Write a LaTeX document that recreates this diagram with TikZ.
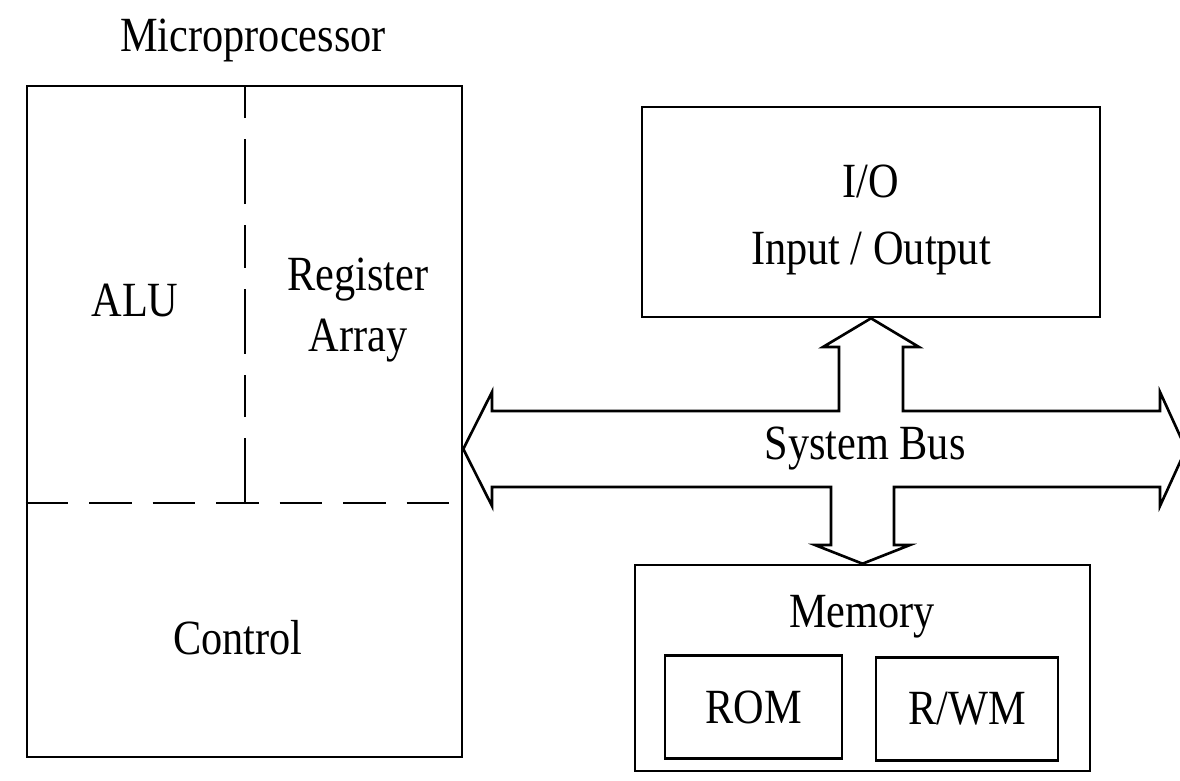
\documentclass[tikz,border=0pt]{standalone}
\usepackage{fontspec}
\setmainfont{Liberation Serif}[FakeStretch=0.86]
\usetikzlibrary{positioning}
\begin{document}
\begin{tikzpicture}[x=0.02cm,y=-0.02cm,line width=1.5pt,
  every node/.style={font=\fontsize{28}{36}\selectfont},
  block/.style={draw,rectangle,inner sep=0pt},
  divider/.style={dash pattern=on 0.85cm off 0.42cm},
  busline/.style={draw,line join=miter}]
  \useasboundingbox (0,0) rectangle (1180,781);
  % Microprocessor
  \node (cpu) [block,minimum width=8.7cm,minimum height=13.42cm] at (244.5,421.5) {};
  \node (cpuname) at (253,40) {Microprocessor};
  \coordinate (split) at (245,503);
  \draw[divider] (cpu.west |- split) -- (cpu.east |- split);
  \draw[dash pattern=on 1.3cm off 0.42cm on 0.85cm off 0.42cm] (split) -- (cpu.north -| split);
  \node (alu) at (135,300) {ALU};
  \node (regs) [align=center] at (358,310) {Register\\[-1pt]Array};
  \node (ctrl) at (238,638) {Control};
  % I/O
  \node (io) [block,minimum width=9.16cm,minimum height=4.2cm] at (871,212) {};
  \node (ioname) [align=center] at (871,220) {I/O\\[2pt]Input / Output};
  % Memory
  \node (mem) [block,minimum width=9.1cm,minimum height=4.12cm] at (862.5,668) {};
  \node (memname) at (862,617) {Memory};
  \node (rom) [block,minimum width=3.54cm,minimum height=2.06cm] at (753.5,707) {ROM};
  \node (rwm) [block,minimum width=3.64cm,minimum height=2.06cm] at (967,709) {R/WM};
  % System bus
  \coordinate (bus) at (865,449);
  \draw[busline] (cpu.east |- bus) -- (492,392) -- (492,411) -- (839,411)
    -- (839,347) -- (823,347) -- (io.south) -- (919,347) -- (903,347)
    -- (903,411) -- (1160,411) -- (1160,392) -- (1186,449) -- (1160,506)
    -- (1160,487) -- (894,487) -- (894,545) -- (910,545) -- (mem.north)
    -- (815,545) -- (831,545) -- (831,487) -- (492,487) -- (492,506) -- cycle;
  \node (busname) at (bus) {System Bus};
\end{tikzpicture}
\end{document}
